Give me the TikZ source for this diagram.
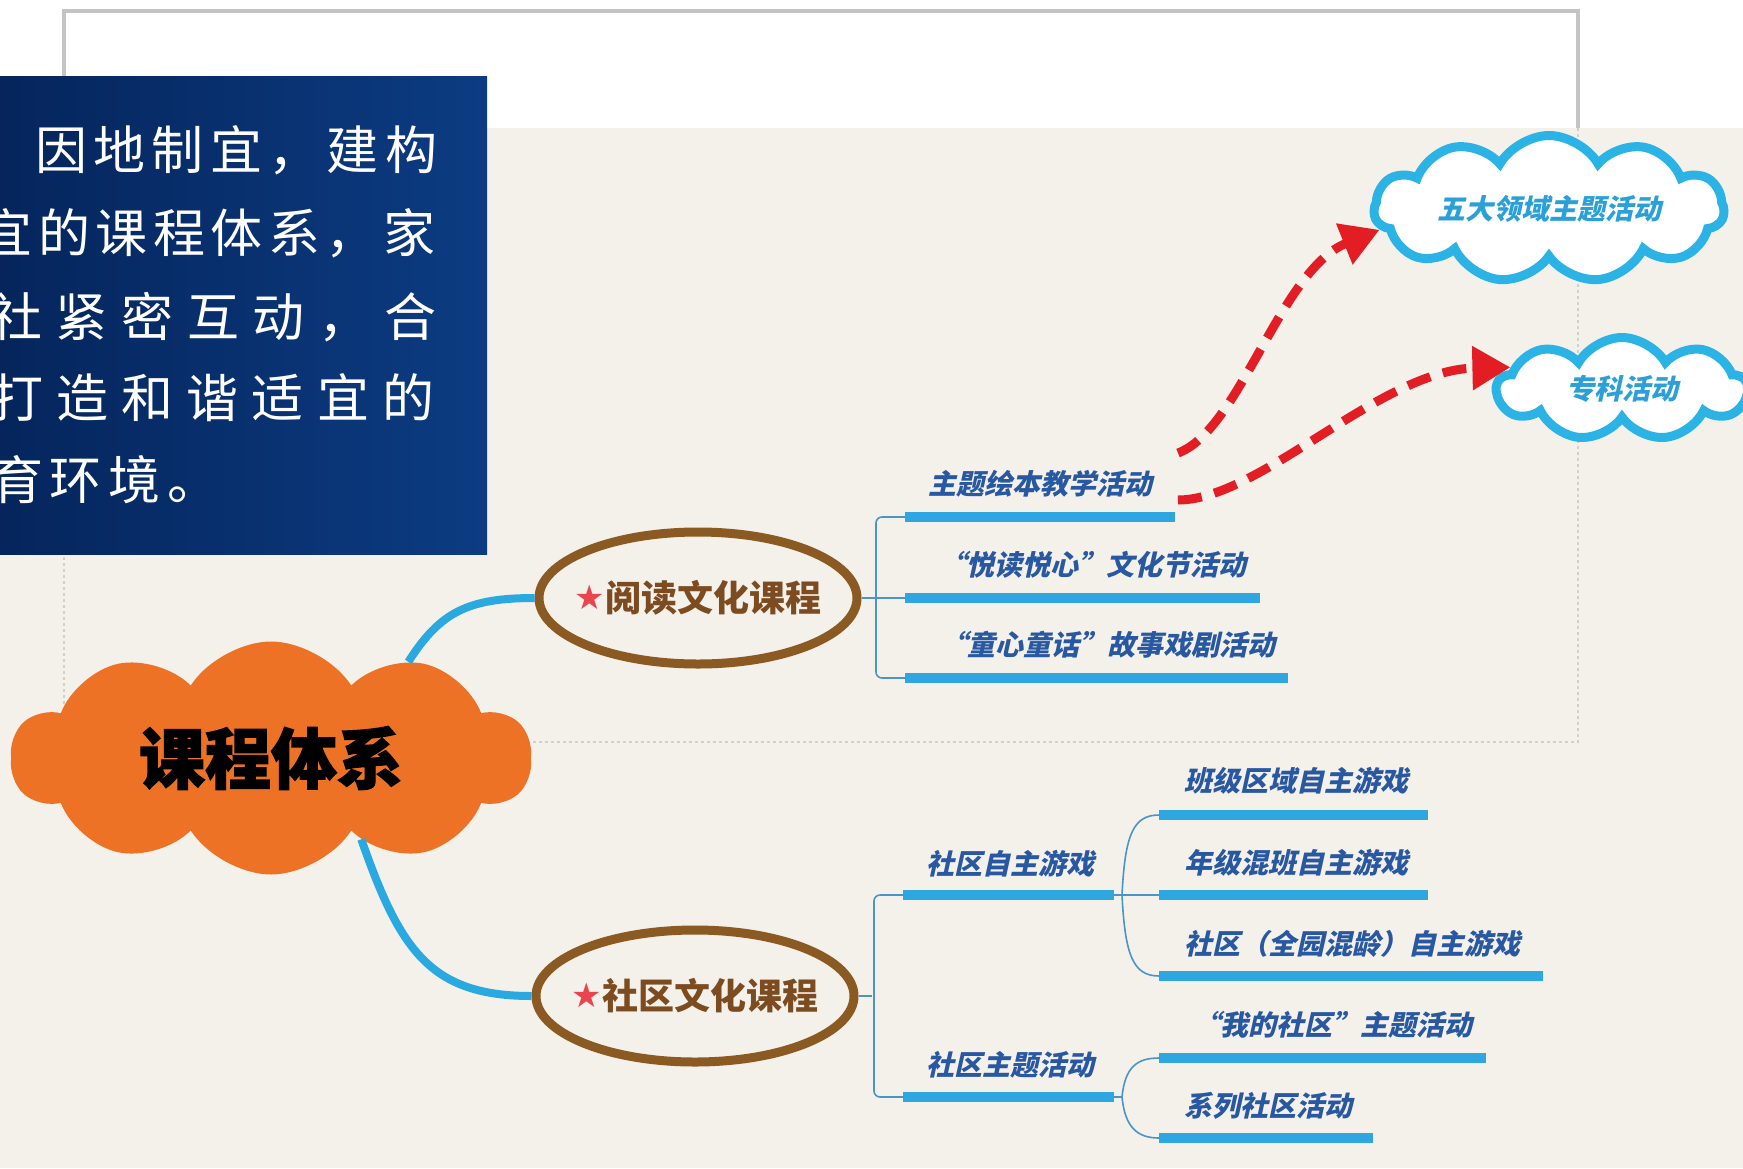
\documentclass[tikz,border=0pt]{standalone}
\usepackage{fontspec}
\usetikzlibrary{shapes.geometric,shapes.symbols,arrows.meta,calc}
\newfontfamily\cjk{Noto Sans CJK SC}
\newfontfamily\cjkit[FakeSlant=0.22]{Noto Sans CJK SC}
\newfontfamily\cjkheavy[FakeBold=2]{Noto Sans CJK SC}
\newfontfamily\symf{DejaVu Sans}
\definecolor{paper}{RGB}{244,240,234}
\definecolor{framegray}{RGB}{196,196,196}
\definecolor{navyA}{RGB}{5,37,92}
\definecolor{navyB}{RGB}{12,60,130}
\definecolor{orangeC}{RGB}{238,114,38}
\definecolor{brownE}{RGB}{139,90,34}
\definecolor{brownT}{RGB}{124,75,31}
\definecolor{starred}{RGB}{233,69,79}
\definecolor{connblue}{RGB}{42,169,224}
\definecolor{brkblue}{RGB}{74,148,200}
\definecolor{barblue}{RGB}{46,166,223}
\definecolor{itemblue}{RGB}{40,88,162}
\definecolor{cloudblue}{RGB}{43,179,230}
\definecolor{cloudtext}{RGB}{42,159,216}
\definecolor{redA}{RGB}{226,29,36}
\begin{document}
\begin{tikzpicture}[x=1pt,y=-1pt,
  boxline/.style={font=\cjk\fontsize{52}{52}\selectfont, text=white, inner sep=0pt, anchor=west},
  itemtxt/.style={font=\cjkit\bfseries\fontsize{28}{30}\selectfont, text=itemblue, inner sep=0pt},
  bar/.style={rectangle, fill=barblue, inner sep=0pt, outer sep=0pt, minimum height=10pt, anchor=west},
  brk/.style={draw=brkblue, line width=1.6pt},
  conn/.style={draw=connblue, line width=8pt},
  courseell/.style={ellipse, draw=brownE, line width=9pt, minimum width=318pt, minimum height=132pt, inner sep=0pt},
  coursetxt/.style={inner sep=0pt, text=brownT, font=\cjk\bfseries\fontsize{36}{40}\selectfont},
  bluecloud/.style={cloud, cloud ignores aspect, draw=cloudblue, line width=9pt, fill=white, inner sep=0pt, text=cloudtext, font=\cjkit\bfseries\fontsize{28}{30}\selectfont},
  redarrow/.style={draw=redA, line width=9pt, dash pattern=on 24pt off 13pt, -{Triangle[length=38pt,width=42pt]}},
  framesolid/.style={draw=framegray, line width=4pt},
  framedot/.style={draw=framegray!80, line width=2pt, dash pattern=on 3pt off 3pt}
]
\useasboundingbox (0,0) rectangle (1743,1168);
\fill[white] (0,0) rectangle (1743,1168);
\fill[paper] (0,128) rectangle (1743,1168);
% frame
\draw[framesolid] (64,128) |- (1578,11) -- (1578,128);
\draw[framedot] (1578,128) |- (64,742) -- (64,554);
% blue text box
\shade[left color=navyA, right color=navyB] (0,76) rectangle (487,554);
\begin{scope}
\clip (0,76) rectangle (487,554);
\node[boxline] (l1) at (35,150) {\makebox[402pt][l]{因\hfill 地\hfill 制\hfill 宜\hfill ，\hfill 建\hfill 构}};
\node[boxline] (l2) at (-19.5,233) {\makebox[454.5pt][l]{宜\hfill 的\hfill 课\hfill 程\hfill 体\hfill 系\hfill ，\hfill 家}};
\node[boxline] (l3) at (-10,317) {\makebox[446pt][l]{社\hfill 紧\hfill 密\hfill 互\hfill 动\hfill ，\hfill 合}};
\node[boxline] (l4) at (-9,398) {\makebox[443pt][l]{打\hfill 造\hfill 和\hfill 谐\hfill 适\hfill 宜\hfill 的}};
\node[boxline] (l5) at (-9,480) {\makebox[228pt][l]{育\hfill 环\hfill 境\hfill 。}};
\end{scope}
% central cloud
\node[cloud, cloud puffs=10, cloud puff arc=115, cloud ignores aspect, fill=orangeC,
  minimum width=520pt, minimum height=233pt, inner sep=0pt,
  font=\cjkheavy\bfseries\fontsize{66}{66}\selectfont, text=black] (cc) at (271,758) {课程体系};
% course ellipses
\node[courseell] (e1) at (698,598) {};
\node[coursetxt] (e1t) at (e1.center) {\raisebox{2pt}{\symf\fontsize{34}{34}\selectfont\textcolor{starred}{★}}阅读文化课程};
\node[courseell] (e2) at (695,996) {};
\node[coursetxt] (e2t) at (e2.center) {\raisebox{2pt}{\symf\fontsize{34}{34}\selectfont\textcolor{starred}{★}}社区文化课程};
\draw[conn] (cc.35) .. controls (440,612) and (468,598) .. (e1.west);
\draw[conn] (cc.-42) .. controls (400,950) and (430,996) .. (e2.west);
% upper branch
\node[bar, minimum width=270pt] (b1) at (905,517) {};
\node[bar, minimum width=355pt] (b2) at (905,598) {};
\node[bar, minimum width=383pt] (b3) at (905,678) {};
\node[itemtxt] (t1) at (1040,484) {主题绘本教学活动};
\node[itemtxt] (t2) at (1092,565) {“悦读悦心”文化节活动};
\node[itemtxt] (t3) at (1107,645) {“童心童话”故事戏剧活动};
\draw[brk, rounded corners=6pt] (b1.west) -- ++(-29,0) |- (b3.west);
\draw[brk] (e1.east) -- (b2.west);
% lower branch
\node[bar, minimum width=211pt] (sb1) at (903,895) {};
\node[bar, minimum width=211pt] (sb2) at (903,1097) {};
\node[itemtxt] (s1) at (1010,864) {社区自主游戏};
\node[itemtxt] (s2) at (1010,1065) {社区主题活动};
\draw[brk, rounded corners=6pt] (sb1.west) -- ++(-29,0) |- (sb2.west);
\draw[brk] (e2.east) -- ++(13,0);
\node[bar, minimum width=269pt] (ub1) at (1159,815) {};
\node[bar, minimum width=269pt] (ub2) at (1159,895) {};
\node[bar, minimum width=384pt] (ub3) at (1159,976) {};
\node[itemtxt] (u1) at (1296,781) {班级区域自主游戏};
\node[itemtxt] (u2) at (1296,863) {年级混班自主游戏};
\node[itemtxt] (u3) at (1352,944) {社区（全园混龄）自主游戏};
\node[bar, minimum width=327pt] (vb1) at (1159,1058) {};
\node[bar, minimum width=214pt] (vb2) at (1159,1138) {};
\node[itemtxt] (v1) at (1332,1025) {“我的社区”主题活动};
\node[itemtxt] (v2) at (1268,1106) {系列社区活动};
\draw[brk] (sb1.east) -- ++(8,0) .. controls +(3,-60) and +(-26,0) .. (ub1.west);
\draw[brk] (sb1.east) -- (ub2.west);
\draw[brk] (sb1.east) -- ++(8,0) .. controls +(3,60) and +(-26,0) .. (ub3.west);
\draw[brk] (sb2.east) -- ++(8,0) .. controls +(3,-30) and +(-22,0) .. (vb1.west);
\draw[brk] (sb2.east) -- ++(8,0) .. controls +(3,30) and +(-22,0) .. (vb2.west);
% blue clouds
\node[bluecloud, cloud puffs=11, cloud puff arc=120, minimum width=350pt, minimum height=147pt] (w1) at (1549,209) {五大领域主题活动};
\node[bluecloud, cloud puffs=9, cloud puff arc=120, minimum width=250pt, minimum height=103pt] (z1) at (1622,389) {专科活动};
% red dashed arrows
\coordinate (a1s) at (1178,453);
\coordinate (a2s) at (1178,500);
\draw[redarrow] (a1s) .. controls (1240,430) and (1280,270) .. (w1.187);
\draw[redarrow] (a2s) .. controls (1260,500) and (1380,370) .. (z1.169);
\end{tikzpicture}
\end{document}
